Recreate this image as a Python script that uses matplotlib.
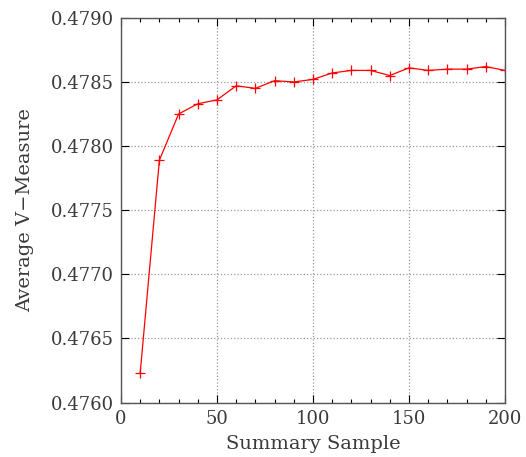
import numpy as np
import matplotlib
matplotlib.use("Agg")
import matplotlib.pyplot as plt
from matplotlib.ticker import MultipleLocator

plt.rcParams['font.family'] = ['DejaVu Serif']

# summary sample sizes and average v-measure
samples = [10, 20, 30, 40, 50, 60, 70, 80, 90, 100,
           110, 120, 130, 140, 150, 160, 170, 180, 190, 200]
vmeasure = [0.47623, 0.47789, 0.47825, 0.47833, 0.47836, 0.47847, 0.47845, 0.47851, 0.47850, 0.47852,
            0.47857, 0.47859, 0.47859, 0.47855, 0.47861, 0.47859, 0.47860, 0.47860, 0.47862, 0.47859]

txt = '#3a3a3a'

fig = plt.figure(figsize=(5.26, 4.57), dpi=100)
ax = fig.add_axes([0.230, 0.119, 0.730, 0.842])

ax.plot(samples, vmeasure, color='red', lw=0.9, marker='+', ms=7, mew=0.9)

ax.set_xlim(0, 200)
ax.set_ylim(0.4760, 0.4790)
ax.xaxis.set_major_locator(MultipleLocator(50))
ax.xaxis.set_minor_locator(MultipleLocator(10))
ax.yaxis.set_major_locator(MultipleLocator(0.0005))
ax.yaxis.set_major_formatter(matplotlib.ticker.FormatStrFormatter('%.4f'))

ax.tick_params(which='both', direction='in', top=True, right=True, labelsize=13,
               labelcolor=txt, pad=5)
ax.tick_params(which='major', length=6, width=0.8)
ax.tick_params(which='minor', length=3, width=0.8)
ax.grid(True, which='major', color='#999999', linestyle=':', linewidth=0.9)

for s in ax.spines.values():
    s.set_color('#555555')
    s.set_linewidth(1.0)

ax.set_xlabel('Summary Sample', fontsize=14, color=txt, labelpad=5)
ax.set_ylabel('Average V\u2212Measure', fontsize=14, color=txt, labelpad=12)

plt.savefig('out.png', dpi=100)
